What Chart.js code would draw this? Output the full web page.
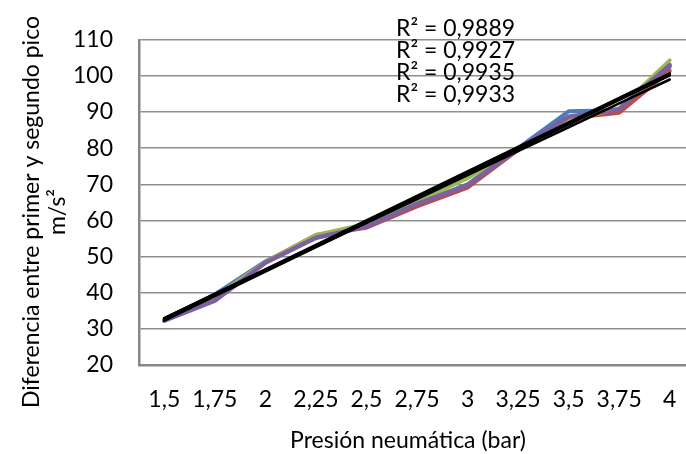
<!DOCTYPE html>
<html>
<head>
<meta charset="utf-8">
<script src="https://cdn.jsdelivr.net/npm/chart.js@4.4.1/dist/chart.umd.min.js"></script>
<style>
  html, body { margin: 0; padding: 0; background: #fff; overflow: hidden; }
  #wrap { width: 700px; height: 454px; position: relative; }
</style>
</head>
<body>
<div id="wrap"><canvas id="presionChart"></canvas></div>
<script>
// categories (bar)
const presiones = ['1,5', '1,75', '2', '2,25', '2,5', '2,75', '3', '3,25', '3,5', '3,75', '4'];

// four measurement series, m/s²
const serieAzul   = [32.5, 39.5, 48.7, 55.2, 58.5, 64.5, 70.0, 80.0, 90.2, 90.5, 102.5];
const serieRoja   = [32.5, 38.5, 48.5, 56.0, 58.0, 63.9, 69.1, 79.5, 88.3, 89.8, 101.4];
const serieVerde  = [32.5, 38.8, 48.5, 56.0, 59.0, 65.2, 71.7, 80.0, 87.8, 91.0, 104.3];
const serieMorada = [32.3, 37.8, 48.3, 55.2, 58.3, 64.6, 69.8, 79.8, 88.7, 90.8, 103.0];

// trendline labels, as printed
const etiquetasR2 = ['R² = 0,9889', 'R² = 0,9927', 'R² = 0,9935', 'R² = 0,9933'];

// y axis range
const yMin = 20, yMax = 110, yStep = 10;

const FONT = 'Lato';
const FONT_SIZE = 23;

// least squares line over category index, like an Excel linear trendline
function tendencia(values) {
    const n = values.length;
    const mx = (n - 1) / 2;
    const my = values.reduce((a, b) => a + b, 0) / n;
    let sxy = 0, sxx = 0;
    values.forEach((v, i) => { sxy += (i - mx) * (v - my); sxx += (i - mx) * (i - mx); });
    const m = sxy / sxx;
    return values.map((_, i) => my + m * (i - mx));
}

const series = [
    { data: serieAzul,   color: '#4A7EBB', order: 5, width: 4 },
    { data: serieRoja,   color: '#BE4B48', order: 4, width: 4 },
    { data: serieVerde,  color: '#98B954', order: 3, width: 4 },
    { data: serieMorada, color: '#7D60A0', order: 2, width: 4.5 }
];

const datasets = [];
series.forEach(s => {
    datasets.push({ data: s.data, borderColor: s.color, borderWidth: s.width, order: s.order,
        pointRadius: 0, tension: 0, borderCapStyle: 'round', borderJoinStyle: 'round' });
});
series.forEach(s => {
    datasets.push({ data: tendencia(s.data), borderColor: '#000', borderWidth: 2.6, order: 1,
        pointRadius: 0, tension: 0, borderCapStyle: 'round' });
});

const textos = {
    id: 'textos',
    afterDraw(chart) {
        const ctx = chart.ctx;
        ctx.save();
        ctx.fillStyle = '#000';
        ctx.font = `${FONT_SIZE}px ${FONT}`;
        ctx.textBaseline = 'middle';

        ctx.textAlign = 'center';
        ctx.fillText('Presión neumática (bar)', 408, 441);

        ctx.save();
        ctx.translate(32, 212);
        ctx.rotate(-Math.PI / 2);
        ctx.fillText('Diferencia entre primer y segundo pico', 0, 0);
        ctx.fillText('m/s²', 0, 26);
        ctx.restore();

        ctx.textAlign = 'left';
        etiquetasR2.forEach((t, i) => ctx.fillText(t, 396, 29 + i * 21.7));
        ctx.restore();
    }
};

const ctx = document.getElementById('presionChart').getContext('2d');
new Chart(ctx, {
    type: 'line',
    data: { labels: presiones, datasets: datasets },
    plugins: [textos],
    options: {
        responsive: true, maintainAspectRatio: false,
        animation: false,
        layout: { padding: { top: 20, right: 5, left: 0, bottom: 0 } },
        plugins: { legend: { display: false }, tooltip: { enabled: false } },
        scales: {
            x: {
                offset: true,
                grid: { display: false, drawTicks: false },
                border: { display: true, color: '#868686', width: 2.5 },
                ticks: { color: '#000', padding: 21, maxRotation: 0, autoSkip: false,
                         font: { family: FONT, size: FONT_SIZE } },
                afterFit: s => { s.height = 89; }
            },
            y: {
                min: yMin, max: yMax,
                grid: { color: '#8E8E8E', lineWidth: 1.5, drawTicks: false },
                border: { display: true, color: '#868686', width: 2.5 },
                ticks: { stepSize: yStep, color: '#000', padding: 26,
                         font: { family: FONT, size: FONT_SIZE } },
                afterFit: s => { s.width = 139; }
            }
        }
    }
});
</script>
</body>
</html>
